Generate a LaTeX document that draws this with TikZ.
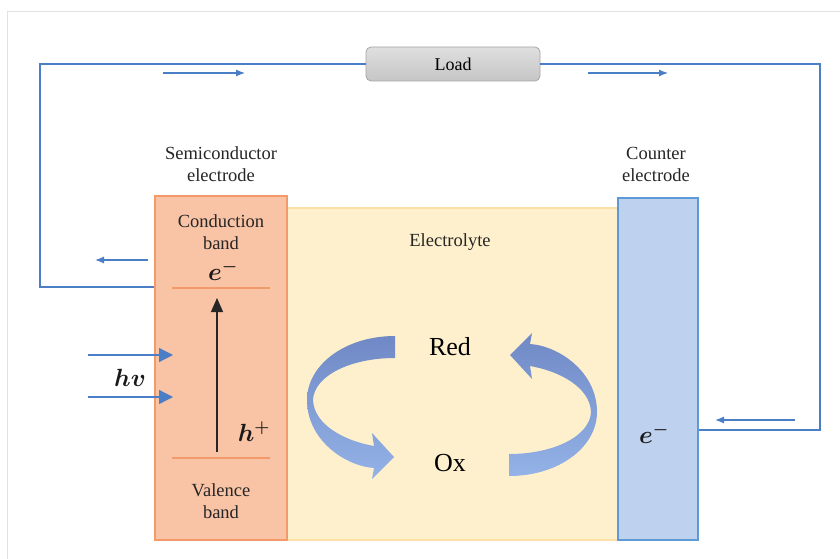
\documentclass[tikz,border=0pt]{standalone}
\usepackage{fontspec}
\setmainfont{Liberation Serif}
\usetikzlibrary{arrows.meta}
\definecolor{wire}{HTML}{4A7EC6}
\definecolor{framegray}{HTML}{E2E2E2}
\definecolor{semifill}{HTML}{F9C3A6}
\definecolor{semiedge}{HTML}{F39A68}
\definecolor{elfill}{HTML}{FEF0CC}
\definecolor{eledge}{HTML}{FAE0A6}
\definecolor{ctfill}{HTML}{BED1EE}
\definecolor{ctedge}{HTML}{5E9AD6}
\definecolor{bandline}{HTML}{F29A6A}
\definecolor{ribdark}{HTML}{7089C6}
\definecolor{riblight}{HTML}{93B2E6}
\tikzset{
  wireline/.style={draw=wire, line width=1.1pt},
  flowarrow/.style={draw=wire, line width=1.2pt, -{Latex[length=9pt,width=7pt]}},
  lightarrow/.style={draw=wire, line width=1.3pt, -{Triangle[length=14pt,width=14pt]}, shorten >=-1pt},
  region/.style={rectangle, inner sep=0pt, line width=1.2pt},
  loadbox/.style={rectangle, rounded corners=5pt, draw=gray!70, line width=0.8pt,
    top color=gray!25, bottom color=gray!45, minimum width=174pt, minimum height=34pt,
    font=\fontsize{18}{20}\selectfont},
  lbl/.style={align=center, font=\fontsize{18.5}{22}\selectfont, text=black!85},
  big/.style={font=\fontsize{26}{30}\selectfont},
  mathlbl/.style={font=\fontsize{24}{27}\selectfont\boldmath, text=black!90},
  ribbon/.style={top color=ribdark, bottom color=riblight, draw=none}
}
\begin{document}
\begin{tikzpicture}[x=1pt,y=-1pt]
\useasboundingbox (0,0) rectangle (840,559);
\fill[white] (0,0) rectangle (840,559);
\draw[framegray, line width=1pt] (7,12) -- (840,12);
\draw[framegray, line width=1pt] (7,12) -- (7,559);

% regions
\node[region, draw=eledge, fill=elfill, minimum width=331pt, minimum height=332pt] (elec) at (452.5,374) {};
\node[region, draw=semiedge, fill=semifill, minimum width=132pt, minimum height=344pt] (semi) at (221,368) {};
\node[region, draw=ctedge, fill=ctfill, minimum width=80pt, minimum height=342pt] (counter) at (658,369) {};

% load and circuit
\node[loadbox] (load) at (453,64) {Load};
\coordinate (tl) at (40,64);
\coordinate (bl) at (40,287);
\coordinate (tr) at (820,64);
\coordinate (br) at (820,430);
\draw[wireline] (load.west) -- (tl) -- (bl) -- (semi.west |- bl);
\draw[wireline] (load.east) -- (tr) -- (br) -- (counter.east |- br);

% current arrows
\coordinate (a1s) at (163,73); \coordinate (a1e) at (245,73);
\coordinate (a2s) at (588,73); \coordinate (a2e) at (668,73);
\coordinate (a3s) at (148,260); \coordinate (a3e) at (95,260);
\coordinate (a4s) at (795,420); \coordinate (a4e) at (715,420);
\draw[flowarrow] (a1s) -- (a1e);
\draw[flowarrow] (a2s) -- (a2e);
\draw[flowarrow] (a3s) -- (a3e);
\draw[flowarrow] (a4s) -- (a4e);

% light arrows
\coordinate (h1s) at (88,355); \coordinate (h1e) at (172,355);
\coordinate (h2s) at (88,397); \coordinate (h2e) at (172,397);
\draw[lightarrow] (h1s) -- (h1e);
\draw[lightarrow] (h2s) -- (h2e);
\node[mathlbl] (hv) at (130,378) {$hv$};

% bands
\coordinate (cb1) at (172,288); \coordinate (cb2) at (270,288);
\coordinate (vb1) at (172,458); \coordinate (vb2) at (270,458);
\draw[bandline, line width=1.1pt] (cb1) -- (cb2);
\draw[bandline, line width=1.1pt] (vb1) -- (vb2);
\coordinate (ex1) at (217,452); \coordinate (ex2) at (217,298);
\draw[black!85, line width=1.2pt, -{Triangle[length=14pt,width=12pt]}] (ex1) -- (ex2);

% labels
\node[lbl] (semilbl) at (221,164) {Semiconductor\\electrode};
\node[lbl] (ctlbl) at (656,164) {Counter\\electrode};
\node[lbl] (cblbl) at (221,232) {Conduction\\band};
\node[lbl] (vblbl) at (221,501) {Valence\\band};
\node[lbl] (ellbl) at (450,242) {Electrolyte};
\node[mathlbl] (e1) at (223,271) {$e^-$};
\node[mathlbl] (hp) at (254,432) {$h^+$};
\node[mathlbl] (e2) at (654,434) {$e^-$};
\node[big] (red) at (450,347) {Red};
\node[big] (ox) at (450,463) {Ox};

% ribbon arrows
\path[ribbon] (395,336) .. controls (345,336) and (307,365) .. (307,400)
  .. controls (307,440) and (345,466) .. (374,468)
  -- (372,479) -- (394,457) -- (372,433) -- (374,446)
  .. controls (345,441) and (314,425) .. (313,400)
  .. controls (314,376) and (350,358) .. (395,358) -- cycle;
\begin{scope}[rotate around={180:(452,406)}]
\path[ribbon] (395,336) .. controls (345,336) and (307,365) .. (307,400)
  .. controls (307,440) and (345,466) .. (374,468)
  -- (372,479) -- (394,457) -- (372,433) -- (374,446)
  .. controls (345,441) and (314,425) .. (313,400)
  .. controls (314,376) and (350,358) .. (395,358) -- cycle;
\end{scope}
\end{tikzpicture}
\end{document}
